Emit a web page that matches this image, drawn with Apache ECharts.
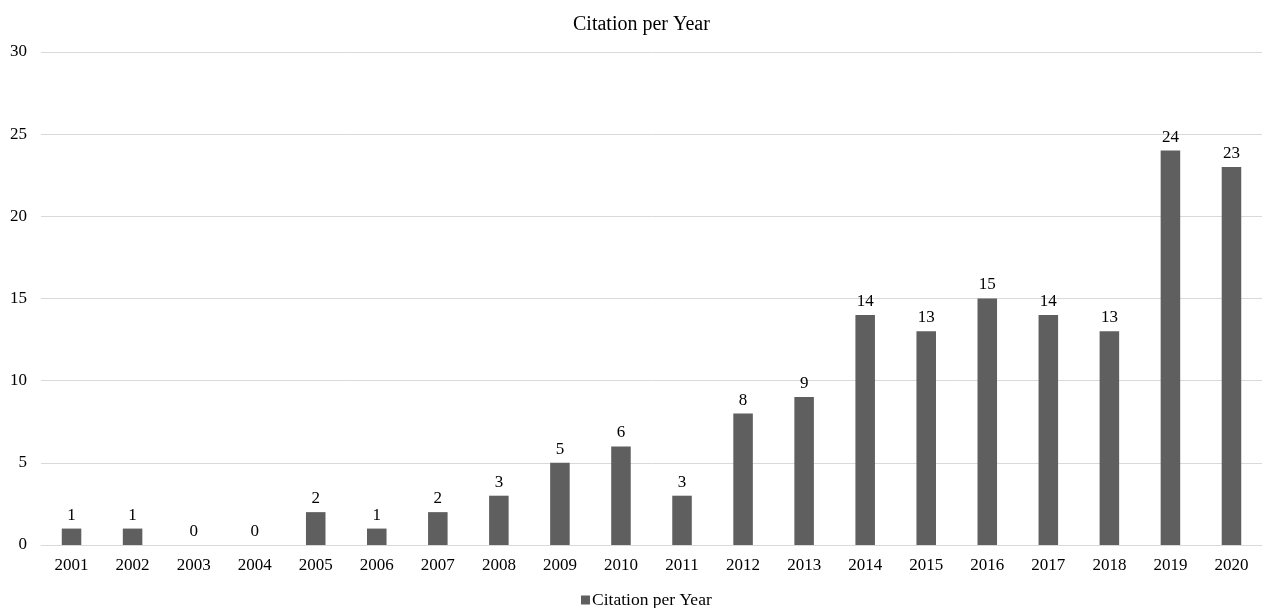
<!DOCTYPE html>
<html>
<head>
<meta charset="utf-8">
<script src="https://cdn.jsdelivr.net/npm/echarts@6/dist/echarts.min.js"></script>
<style>
  html, body { margin: 0; padding: 0; background: #fff; }
  #chart { width: 1269px; height: 608px; }
</style>
</head>
<body>
<div id="chart"></div>
<script>
// Citations received per year
const years = ['2001','2002','2003','2004','2005','2006','2007','2008','2009','2010',
               '2011','2012','2013','2014','2015','2016','2017','2018','2019','2020'];
const citations = [1, 1, 0, 0, 2, 1, 2, 3, 5, 6, 3, 8, 9, 14, 13, 15, 14, 13, 24, 23];
const seriesName = 'Citation per Year';

const font = '"Liberation Serif", "Times New Roman", serif';
const chart = echarts.init(document.getElementById('chart'));
chart.setOption({
  animation: false,
  textStyle: { fontFamily: font, color: '#000' },
  title: {
    text: seriesName,
    left: 568,
    top: 10,
    textStyle: { fontFamily: font, fontSize: 20, fontWeight: 'normal', color: '#000' }
  },
  legend: {
    top: 586,
    left: 576,
    itemWidth: 9,
    itemHeight: 9,
    itemGap: 4,
    icon: 'rect',
    textStyle: { fontFamily: font, fontSize: 17.5, color: '#000', padding: [0, 0, 0, -3] },
    data: [seriesName]
  },
  grid: { left: 41, right: 7, top: 52, bottom: 63 },
  xAxis: {
    type: 'category',
    data: years,
    axisLine: { lineStyle: { color: '#d9d9d9' } },
    axisTick: { show: false },
    axisLabel: { fontFamily: font, fontSize: 17, color: '#000', margin: 12 }
  },
  yAxis: {
    type: 'value',
    min: 0,
    max: 30,
    interval: 5,
    axisLine: { show: false },
    axisTick: { show: false },
    splitLine: { lineStyle: { color: '#d9d9d9' } },
    axisLabel: { fontFamily: font, fontSize: 17, color: '#000', margin: 14 }
  },
  series: [{
    name: seriesName,
    type: 'bar',
    data: citations,
    barWidth: '32%',
    itemStyle: { color: '#5f5f5f' },
    label: {
      show: true,
      position: 'top',
      distance: 5,
      fontFamily: font,
      fontSize: 17,
      color: '#000'
    }
  }]
});
</script>
</body>
</html>
